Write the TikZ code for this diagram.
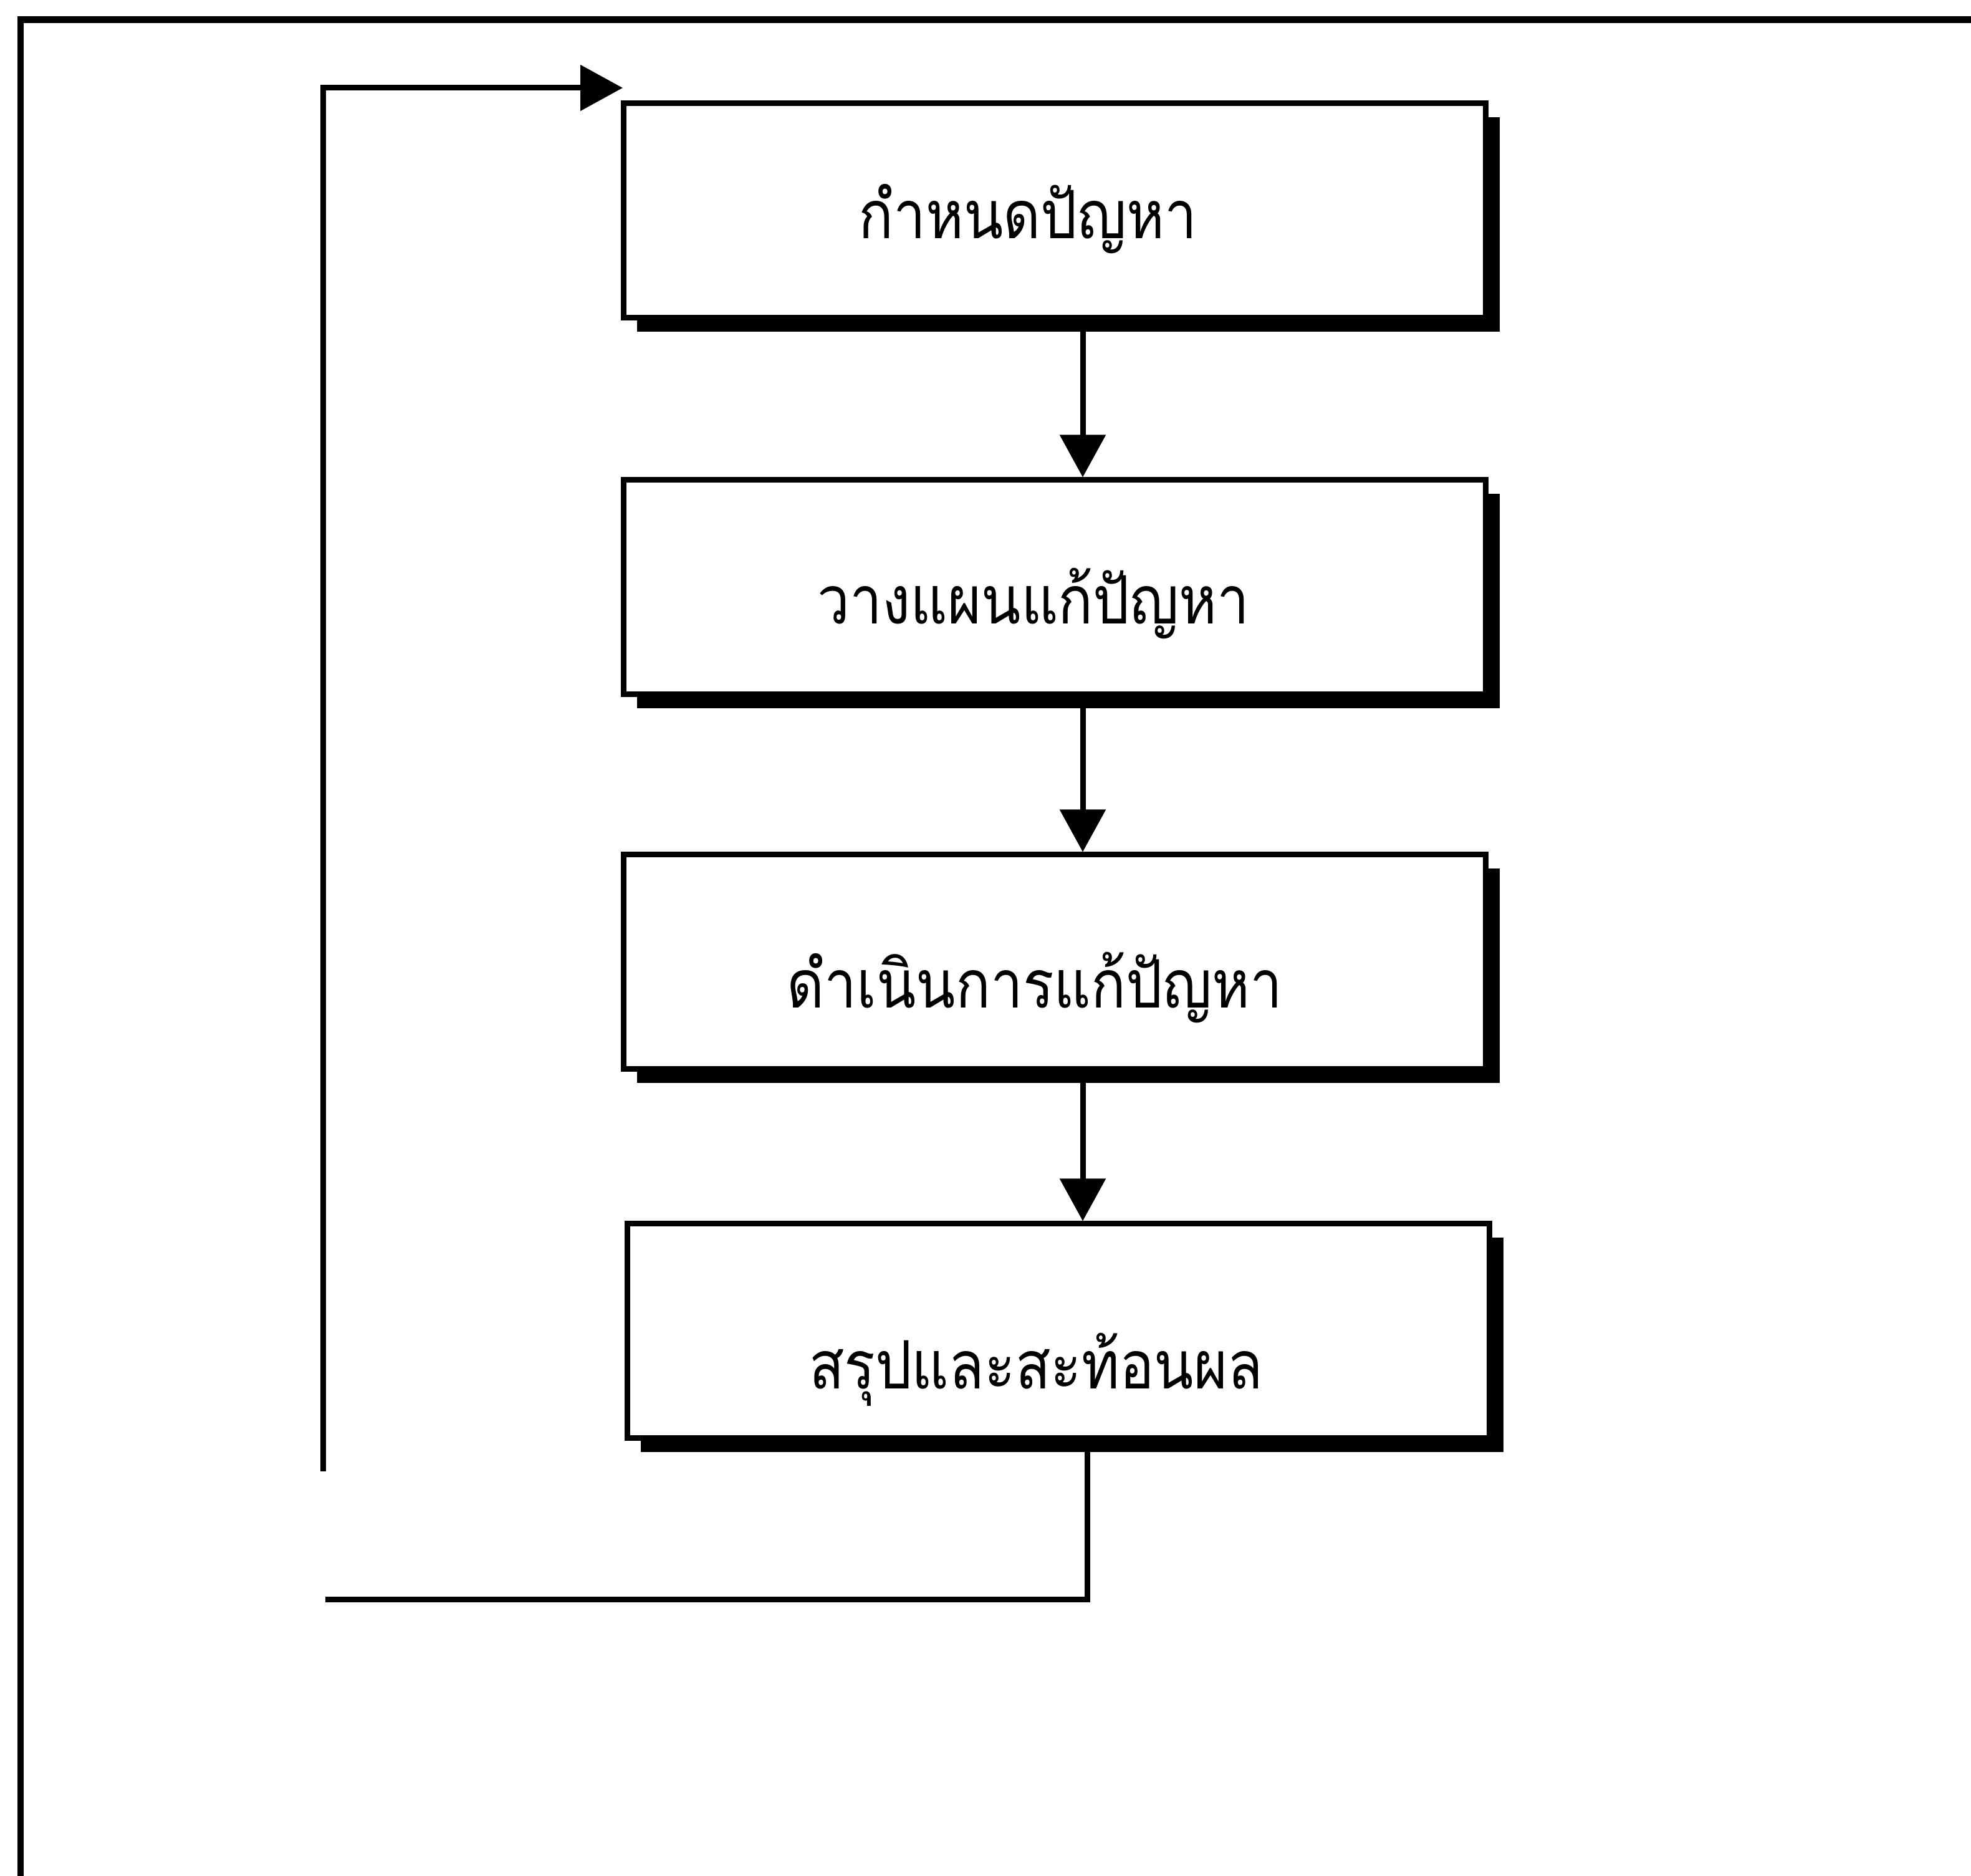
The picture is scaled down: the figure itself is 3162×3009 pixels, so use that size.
\documentclass[tikz,border=0pt]{standalone}
\usepackage{fontspec}
\usepackage{graphicx}
\newfontfamily\thaifont[Script=Thai]{Loma}
\usetikzlibrary{arrows.meta,shadows}
\newcommand{\narrowtext}[1]{\scalebox{0.865}[1]{#1}}
\begin{document}
\begin{tikzpicture}[x=0.1pt,y=-0.1pt,
  stepbox/.style={draw=black, line width=0.9pt, fill=white, minimum width=138.4pt, minimum height=34.4pt, inner sep=0pt,
    drop shadow={shadow xshift=2.2pt, shadow yshift=-2.2pt, fill=black, opacity=1}},
  lbl/.style={font=\thaifont\fontsize{10.7}{13}\selectfont, anchor=base, inner sep=0pt},
  conn/.style={line width=0.9pt},
  arr/.style={conn, -{Triangle[length=6.8pt,width=7.2pt]}},
  frame/.style={line width=1.1pt}]
\useasboundingbox (0,0) rectangle (3162,3009);
% outer frame (top and left only)
\coordinate (fa) at (33,3020);
\coordinate (fb) at (33,32);
\coordinate (fc) at (3170,32);
\draw[frame] (fa) -- (fb) -- (fc);
% boxes
\node[stepbox] (b1) at (1692,338) {};
\node[stepbox] (b2) at (1692,942) {};
\node[stepbox] (b3) at (1692,1543) {};
\node[stepbox] (b4) at (1698,2135) {};
% labels
\node[lbl] (t1) at (1649,383) {\narrowtext{กำหนดปัญหา}};
\node[lbl] (t2) at (1658,1001) {\narrowtext{วางแผนแก้ปัญหา}};
\node[lbl] (t3) at (1660,1617) {\narrowtext{ดำเนินการแก้ปัญหา}};
\node[lbl] (t4) at (1662,2228) {\narrowtext{สรุปและสะท้อนผล}};
% connectors
\coordinate (ax) at (1737,0);
\draw[arr] (b1.south -| ax) -- (b2.north -| ax);
\draw[arr] (b2.south -| ax) -- (b3.north -| ax);
\draw[arr] (b3.south -| ax) -- (b4.north -| ax);
% feedback loop
\coordinate (lb) at (1744,2566);
\coordinate (lc) at (522,2566);
\draw[conn] (b4.south -| lb) -- (lb) -- (lc);
\coordinate (ld) at (518,2360);
\coordinate (le) at (518,141);
\coordinate (lf) at (999,141);
\draw[arr] (ld) -- (le) -- (lf);
\end{tikzpicture}
\end{document}
